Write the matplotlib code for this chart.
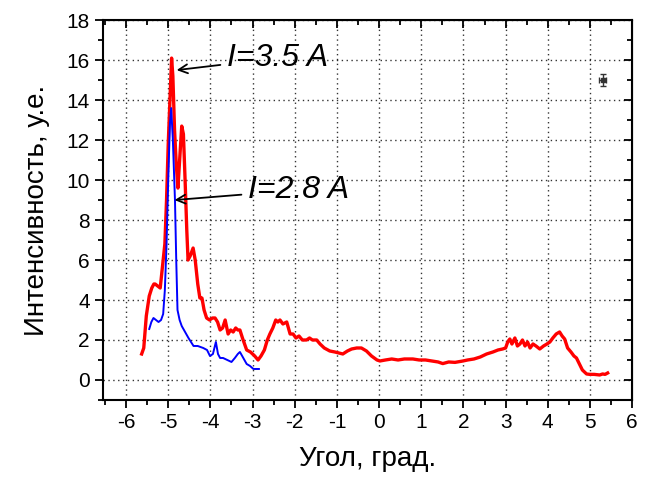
import numpy as np
import matplotlib.pyplot as plt
from matplotlib.ticker import MultipleLocator

plt.rcParams['font.family'] = ['Liberation Sans', 'DejaVu Sans']
plt.rcParams['axes.unicode_minus'] = False

# red curve, I = 3.5 A
red_x = [-5.63, -5.58, -5.52, -5.45, -5.39, -5.34, -5.31, -5.25, -5.19, -5.14, -5.08, -5.04,
         -5.00, -4.96, -4.92, -4.89, -4.85, -4.81, -4.77, -4.73, -4.68, -4.64, -4.60, -4.56,
         -4.53, -4.48, -4.41, -4.36, -4.30, -4.25, -4.20, -4.15, -4.09, -4.02, -3.95, -3.89,
         -3.83, -3.77, -3.71, -3.65, -3.58, -3.52, -3.46, -3.40, -3.35, -3.30, -3.24, -3.14,
         -3.05, -2.95, -2.87, -2.80, -2.72, -2.65, -2.59, -2.52, -2.45, -2.40, -2.35, -2.28,
         -2.19, -2.11, -2.04, -1.97, -1.90, -1.82, -1.72, -1.65, -1.58, -1.48, -1.40, -1.30,
         -1.17, -1.05, -0.95, -0.86, -0.75, -0.65, -0.53, -0.42, -0.30, -0.18, -0.05, 0.02,
         0.15, 0.30, 0.45, 0.60, 0.80, 0.95, 1.10, 1.25, 1.40, 1.51, 1.65, 1.80, 1.99,
         2.10, 2.25, 2.40, 2.55, 2.70, 2.82, 2.93, 3.00, 3.05, 3.10, 3.15, 3.22, 3.28, 3.34,
         3.40, 3.46, 3.52, 3.58, 3.65, 3.72, 3.81, 3.90, 3.98, 4.05, 4.12, 4.20, 4.28, 4.34,
         4.40, 4.47, 4.55, 4.62, 4.68, 4.75, 4.82, 4.92, 5.00, 5.10, 5.23, 5.30, 5.36, 5.42]
red_y = [1.3, 1.6, 3.2, 4.2, 4.6, 4.8, 4.8, 4.7, 4.6, 5.6, 6.8, 9.0,
         11.8, 14.0, 16.1, 15.2, 12.5, 10.8, 9.6, 11.0, 12.7, 12.3, 10.0, 7.5,
         6.0, 6.2, 6.6, 6.0, 4.8, 4.1, 4.1, 3.5, 3.1, 3.0, 3.1, 3.1,
         2.9, 2.5, 2.6, 3.0, 2.3, 2.5, 2.4, 2.6, 2.5, 2.5, 2.1, 1.5,
         1.4, 1.2, 1.0, 1.2, 1.5, 2.0, 2.3, 2.6, 3.0, 2.9, 3.0, 2.8,
         2.9, 2.3, 2.3, 2.1, 2.2, 2.0, 2.0, 2.1, 2.0, 2.0, 1.8, 1.6,
         1.45, 1.4, 1.35, 1.3, 1.45, 1.55, 1.6, 1.6, 1.45, 1.2, 1.0, 0.95,
         1.0, 1.05, 1.0, 1.05, 1.05, 1.0, 1.0, 0.95, 0.9, 0.82, 0.9, 0.88, 0.95,
         1.0, 1.05, 1.15, 1.3, 1.4, 1.5, 1.55, 1.6, 1.9, 2.05, 1.8, 2.1, 1.7, 1.8,
         2.0, 1.7, 1.9, 1.6, 1.8, 1.7, 1.55, 1.7, 1.8, 1.9, 2.1, 2.3, 2.4, 2.2,
         2.05, 1.6, 1.4, 1.2, 1.1, 0.8, 0.5, 0.3, 0.28, 0.28, 0.25, 0.3, 0.28, 0.35]

# blue curve, I = 2.8 A
blue_x = [-5.45, -5.40, -5.35, -5.29, -5.23, -5.17, -5.12, -5.08, -5.04, -5.00, -4.96, -4.93,
          -4.89, -4.84, -4.81, -4.78, -4.73, -4.68, -4.60, -4.52, -4.46, -4.40, -4.30, -4.17,
          -4.08, -4.01, -3.94, -3.87, -3.82, -3.77, -3.70, -3.60, -3.50, -3.42, -3.35, -3.30,
          -3.22, -3.14, -3.06, -2.98, -2.85]
blue_y = [2.55, 2.9, 3.1, 3.0, 2.9, 3.0, 3.3, 4.5, 6.8, 10.0, 12.8, 13.6,
          12.0, 9.0, 6.0, 3.5, 3.0, 2.7, 2.4, 2.1, 1.9, 1.7, 1.7, 1.6,
          1.5, 1.2, 1.3, 1.9, 1.3, 1.1, 1.1, 1.0, 0.9, 1.1, 1.3, 1.4,
          1.1, 0.8, 0.7, 0.55, 0.55]

fig = plt.figure(figsize=(6.51, 4.79), dpi=100)
ax = fig.add_axes([0.158, 0.165, 0.813, 0.793])

ax.plot(red_x, red_y, color='#ff0000', lw=2.4)
ax.plot(blue_x, blue_y, color='#0000ff', lw=1.4)

# error bar sample
ax.errorbar([5.3], [15.0], xerr=[0.08], yerr=[0.3], fmt='s', ms=3, color='#333333',
            ecolor='#333333', elinewidth=1, capsize=2.5)

ax.annotate('I=3.5 A', xy=(-4.8, 15.5), xytext=(-3.6, 16.1), fontsize=23, style='italic',
            va='center', arrowprops=dict(arrowstyle='->', color='black', lw=1.3,
                                         shrinkA=3, shrinkB=0, mutation_scale=16))
ax.annotate('I=2.8 A', xy=(-4.85, 9.0), xytext=(-3.1, 9.5), fontsize=23, style='italic',
            va='center', arrowprops=dict(arrowstyle='->', color='black', lw=1.3,
                                         shrinkA=3, shrinkB=0, mutation_scale=16))

ax.set_xlim(-6.55, 6)
ax.set_ylim(-1, 18)
ax.xaxis.set_major_locator(MultipleLocator(1))
ax.xaxis.set_minor_locator(MultipleLocator(0.5))
ax.yaxis.set_major_locator(MultipleLocator(2))
ax.yaxis.set_minor_locator(MultipleLocator(1))

ax.grid(True, which='major', linestyle=(0, (1, 2.5)), color='black', lw=1.0, alpha=0.8)
ax.tick_params(which='both', direction='out', labelsize=15, width=1.3)
ax.tick_params(which='major', length=6)
ax.tick_params(which='minor', length=3.5)
for s in ax.spines.values():
    s.set_linewidth(1.5)

# inward ticks on the top and right
sec_x = ax.secondary_xaxis('top')
sec_x.xaxis.set_major_locator(MultipleLocator(1))
sec_x.xaxis.set_minor_locator(MultipleLocator(0.5))
sec_x.tick_params(which='both', direction='in', labeltop=False, width=1.3)
sec_x.tick_params(which='major', length=6)
sec_x.tick_params(which='minor', length=3.5)
sec_y = ax.secondary_yaxis('right')
sec_y.yaxis.set_major_locator(MultipleLocator(2))
sec_y.yaxis.set_minor_locator(MultipleLocator(1))
sec_y.tick_params(which='both', direction='in', labelright=False, width=1.3)
sec_y.tick_params(which='major', length=6)
sec_y.tick_params(which='minor', length=3.5)

ax.set_xlabel('Угол, град.', fontsize=20, labelpad=10)
ax.set_ylabel('Интенсивность, у.е.', fontsize=20, labelpad=12)

fig.savefig('out.png', dpi=100)
